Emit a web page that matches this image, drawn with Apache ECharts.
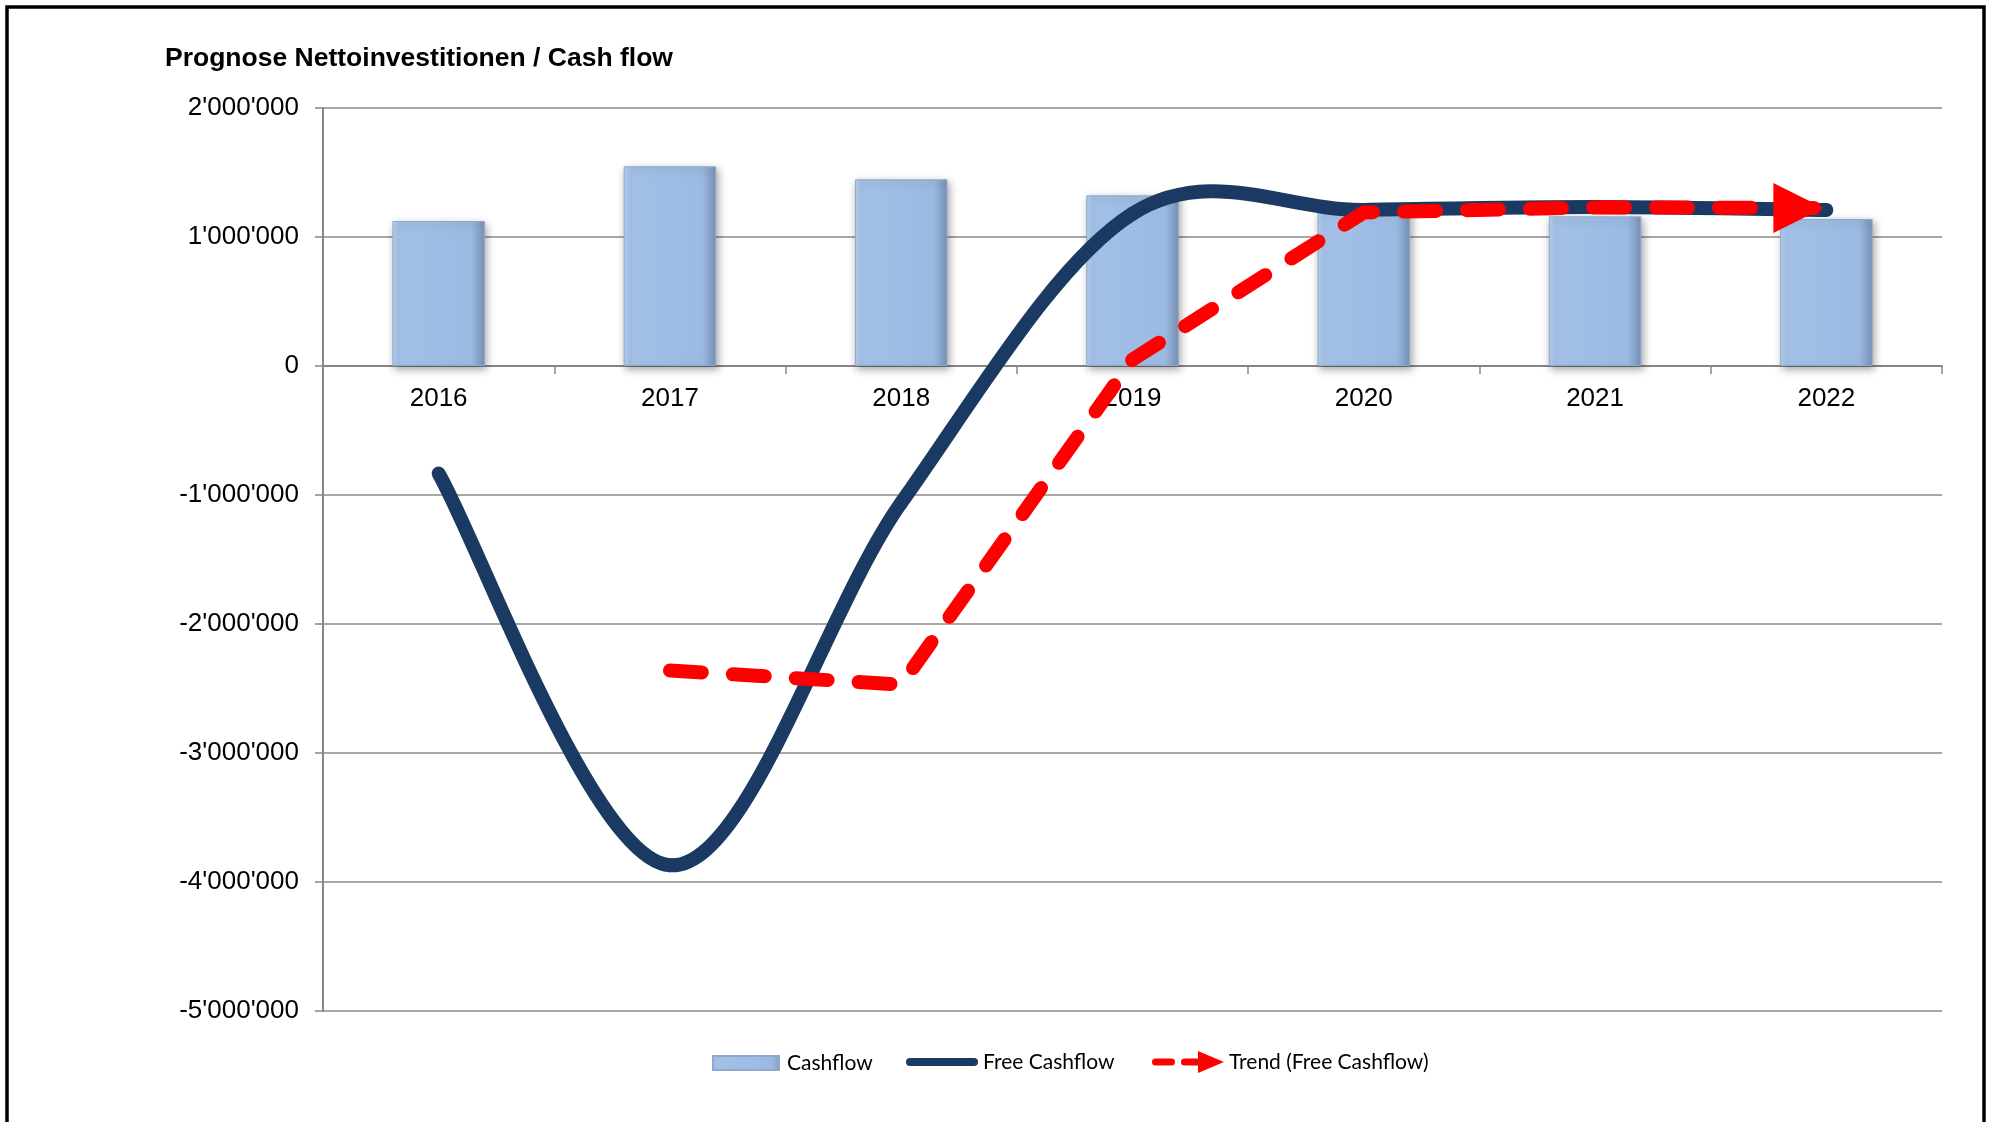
<!DOCTYPE html>
<html>
<head>
<meta charset="utf-8">
<script src="https://cdn.jsdelivr.net/npm/echarts@6/dist/echarts.min.js"></script>
<style>
  html, body { margin: 0; padding: 0; background: #fff; }
  #chart { width: 1989px; height: 1122px; }
</style>
</head>
<body>
<div id="chart"></div>
<script>
const titleText = "Prognose Nettoinvestitionen / Cash flow";
const categories = ["2016", "2017", "2018", "2019", "2020", "2021", "2022"];
const cashflow = [1124000, 1548000, 1447000, 1323000, 1200000, 1160000, 1140000];
const freeCashflow = [-834000, -3870000, -1060000, 1180000, 1210000, 1233000, 1210000];
const trendFreeCashflow = [null, -2360000, -2470000, 50000, 1190000, 1230000, 1225000];
const yTicks = { min: -5000000, max: 2000000, interval: 1000000 };
const seriesNames = ["Cashflow", "Free Cashflow", "Trend (Free Cashflow)"];

function fmt(v) {
  const neg = v < 0;
  const s = String(Math.abs(Math.round(v))).replace(/\B(?=(\d{3})+(?!\d))/g, "'");
  return (neg ? '-' : '') + s;
}

const GRID = { left: 323, right: 47, top: 108, bottom: 111 };
const gridHeight = 1122 - GRID.top - GRID.bottom;
const zeroOffset = -gridHeight * (0 - yTicks.min) / (yTicks.max - yTicks.min);

const barColor = {
  type: 'linear', x: 0, y: 0, x2: 1, y2: 0,
  colorStops: [
    { offset: 0, color: '#b8d2f1' },
    { offset: 0.07, color: '#a3c1e7' },
    { offset: 0.85, color: '#9bbae2' },
    { offset: 1, color: '#7892b6' }
  ]
};

const trendData = trendFreeCashflow.map((v, i) => {
  if (i === trendFreeCashflow.length - 1) {
    return {
      value: v,
      symbol: 'triangle',
      symbolSize: [50, 50],
      symbolRotate: -90,
      symbolOffset: [-28, 0],
      itemStyle: { color: '#ff0000', opacity: 1 }
    };
  }
  return v;
});

// Excel-like smoothed line (Catmull-Rom, tension 1/6), points placed through the axes
function renderSmoothSegment(params, api) {
  const i = params.dataIndex;
  const n = freeCashflow.length;
  if (i >= n - 1) return null;
  const P = k => api.coord([Math.max(0, Math.min(n - 1, k)), freeCashflow[Math.max(0, Math.min(n - 1, k))]]);
  const p0 = P(i - 1), p1 = P(i), p2 = P(i + 1), p3 = P(i + 2);
  const c1 = [p1[0] + (p2[0] - p0[0]) / 6, p1[1] + (p2[1] - p0[1]) / 6];
  const c2 = [p2[0] - (p3[0] - p1[0]) / 6, p2[1] - (p3[1] - p1[1]) / 6];
  return {
    type: 'bezierCurve',
    shape: { x1: p1[0], y1: p1[1], x2: p2[0], y2: p2[1], cpx1: c1[0], cpy1: c1[1], cpx2: c2[0], cpy2: c2[1] },
    style: { fill: null, stroke: '#1b3a63', lineWidth: 14, lineCap: 'round' }
  };
}

const legendFont = { fontFamily: 'Lato', fontSize: 21, color: '#000' };

const chart = echarts.init(document.getElementById('chart'), null, { renderer: 'canvas' });
chart.setOption({
  animation: false,
  backgroundColor: '#ffffff',
  title: {
    text: titleText,
    left: 160, top: 40,
    textStyle: { fontFamily: 'Liberation Sans, Arial', fontWeight: 'bold', fontSize: 26.5, color: '#000' }
  },
  graphic: [{
    type: 'rect', silent: true, z: 100,
    shape: { x: 7, y: 7, width: 1977, height: 1130 },
    style: { fill: null, stroke: '#000', lineWidth: 3.5 }
  }],
  legend: [
    {
      left: 709, top: 1051, padding: 0, itemWidth: 72, itemHeight: 22, textStyle: legendFont,
      data: [{ name: seriesNames[0], icon: 'path://M0,0M72,22M3,4L69,4L69,18L3,18Z' }]
    },
    {
      left: 906, top: 1051, padding: 0, itemWidth: 72, itemHeight: 22, textStyle: legendFont,
      data: [{ name: seriesNames[1], icon: 'path://M0,0M72,22M4,7L68,7A4,4,0,0,1,68,15L4,15A4,4,0,0,1,4,7Z' }]
    },
    {
      left: 1152, top: 1051, padding: 0, itemWidth: 72, itemHeight: 22, textStyle: legendFont,
      data: [{ name: seriesNames[2], icon: 'path://M0,0M72,22M3.5,7.5L19.5,7.5A3.5,3.5,0,0,1,19.5,14.5L3.5,14.5A3.5,3.5,0,0,1,3.5,7.5ZM32.5,7.5L46,7.5L46,14.5L32.5,14.5A3.5,3.5,0,0,1,32.5,7.5ZM46,0L72,11L46,22Z' }]
    }
  ],
  grid: { left: GRID.left, right: GRID.right, top: GRID.top, bottom: GRID.bottom, containLabel: false },
  xAxis: {
    type: 'category',
    data: categories,
    boundaryGap: true,
    position: 'bottom',
    offset: zeroOffset,
    axisLine: { onZero: false, lineStyle: { color: '#868686', width: 2 } },
    axisTick: { show: true, inside: false, length: 8, alignWithLabel: false, lineStyle: { color: '#868686', width: 1.5 } },
    axisLabel: { margin: 20, fontFamily: 'Liberation Sans, Arial', fontSize: 26, color: '#000' },
    splitLine: { show: false }
  },
  yAxis: {
    type: 'value',
    min: yTicks.min, max: yTicks.max, interval: yTicks.interval,
    axisLine: { show: true, lineStyle: { color: '#868686', width: 2 } },
    axisTick: { show: true, inside: false, length: 8, lineStyle: { color: '#868686', width: 1.5 } },
    axisLabel: { margin: 24, fontFamily: 'Liberation Sans, Arial', fontSize: 26, color: '#000', formatter: fmt },
    splitLine: { show: true, lineStyle: { color: '#8a8a8a', width: 1.5 } }
  },
  series: [
    {
      name: seriesNames[0],
      type: 'bar',
      data: cashflow,
      barWidth: '40%',
      z: 2,
      itemStyle: {
        color: barColor,
        borderColor: '#8fa9cc', borderWidth: 1,
        shadowColor: 'rgba(0,0,0,0.35)', shadowBlur: 8, shadowOffsetX: 2, shadowOffsetY: 3
      }
    },
    {
      name: seriesNames[1],
      type: 'custom',
      data: freeCashflow.map((v, i) => [i, v]),
      encode: { x: 0, y: 1 },
      renderItem: renderSmoothSegment,
      z: 3,
      itemStyle: { color: '#1b3a63' }
    },
    {
      name: seriesNames[2],
      type: 'line',
      data: trendData,
      smooth: false,
      symbol: 'none',
      z: 4,
      itemStyle: { color: '#ff0000' },
      lineStyle: { color: '#ff0000', width: 14, type: [32, 31], cap: 'round', join: 'round' }
    }
  ]
});
</script>
</body>
</html>
